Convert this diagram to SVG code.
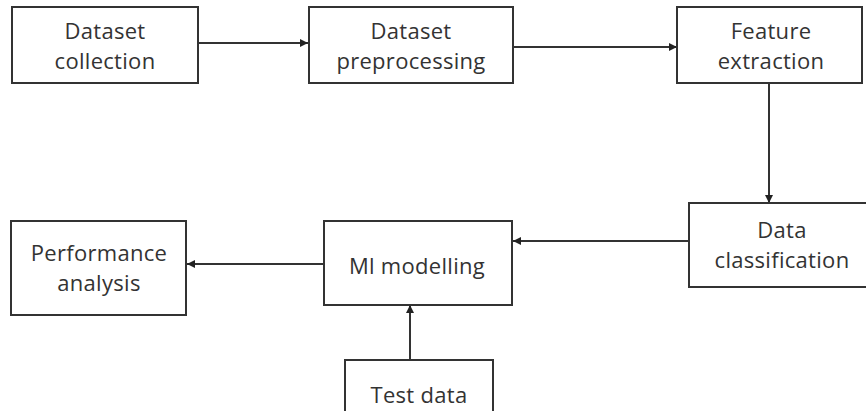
<svg xmlns="http://www.w3.org/2000/svg" width="866" height="411" viewBox="0 0 866 411">
<style>
.box{fill:#fff;stroke:#333;stroke-width:2}
.t{font-family:"Open Sans","Liberation Sans",sans-serif;font-size:22px;fill:#333;text-anchor:middle;letter-spacing:0.3px}
.c{stroke:#333;stroke-width:2;fill:none;marker-end:url(#ah)}
</style>
<defs>
<marker id="ah" viewBox="0 0 10 10" refX="10" refY="5" markerWidth="4" markerHeight="4" orient="auto" markerUnits="strokeWidth">
<path d="M0,0 L10,5 L0,10 z" fill="#222"/>
</marker>
</defs>
<rect width="866" height="411" fill="#fff"/>
<g id="connectors">
<line class="c" x1="198" y1="43" x2="308" y2="43"/>
<line class="c" x1="513" y1="47" x2="677" y2="47"/>
<line class="c" x1="769" y1="83" x2="769" y2="203"/>
<line class="c" x1="689" y1="241" x2="513" y2="241"/>
<line class="c" x1="324" y1="264" x2="187" y2="264"/>
<line class="c" x1="410" y1="359" x2="410" y2="305"/>
</g>
<g id="n1"><rect class="box" x="12" y="7" width="186" height="76"/><text class="t" x="105" y="39">Dataset</text><text class="t" x="105" y="69">collection</text></g>
<g id="n2"><rect class="box" x="309" y="7" width="204" height="76"/><text class="t" x="411" y="39">Dataset</text><text class="t" x="411" y="69">preprocessing</text></g>
<g id="n3"><rect class="box" x="677" y="7" width="185" height="76"/><text class="t" x="771" y="39">Feature</text><text class="t" x="771" y="69">extraction</text></g>
<g id="n4"><rect class="box" x="689" y="203" width="190" height="84"/><text class="t" x="782" y="238">Data</text><text class="t" x="782" y="268">classification</text></g>
<g id="n5"><rect class="box" x="324" y="221" width="188" height="84"/><text class="t" x="417" y="274">Ml modelling</text></g>
<g id="n6"><rect class="box" x="11" y="221" width="175" height="94"/><text class="t" x="99" y="261">Performance</text><text class="t" x="99" y="291">analysis</text></g>
<g id="n7"><rect class="box" x="345" y="360" width="148" height="60"/><text class="t" x="419" y="403">Test data</text></g>
</svg>
